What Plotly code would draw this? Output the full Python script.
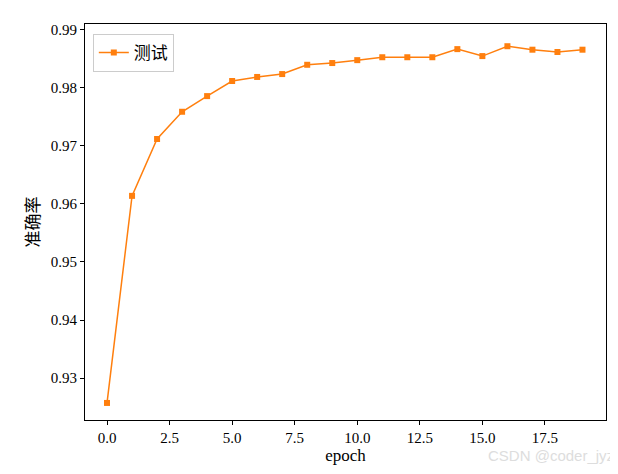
import plotly.graph_objects as go

# 每个 epoch 的测试准确率
epochs = list(range(20))
test_acc = [0.9257, 0.9614, 0.9712, 0.9759, 0.9786, 0.9812, 0.9819, 0.9824, 0.9840, 0.9843,
            0.9848, 0.9853, 0.9853, 0.9853, 0.9867, 0.9855, 0.9872, 0.9866, 0.9862, 0.9866]

fig = go.Figure()
fig.add_trace(go.Scatter(
    x=epochs, y=test_acc, mode='lines+markers', name='测试',
    line=dict(color='#ff7f0e', width=1.5),
    marker=dict(symbol='square', size=6, color='#ff7f0e'),
))

axis_style = dict(showgrid=False, zeroline=False, showline=True, mirror=True,
                  linecolor='black', linewidth=1, ticks='outside', ticklen=4,
                  tickcolor='black', tickfont=dict(size=15), automargin=False)

fig.update_xaxes(range=[-0.88, 19.94], tickvals=[0, 2.5, 5, 7.5, 10, 12.5, 15, 17.5],
                 ticktext=['0.0', '2.5', '5.0', '7.5', '10.0', '12.5', '15.0', '17.5'],
                 title=dict(text='epoch', font=dict(size=17), standoff=4), **axis_style)
fig.update_yaxes(range=[0.92276, 0.99103], tickvals=[0.93, 0.94, 0.95, 0.96, 0.97, 0.98, 0.99],
                 tickformat='.2f',
                 title=dict(text='准确率', font=dict(size=17), standoff=6), **axis_style)

fig.update_layout(
    width=618, height=474,
    margin=dict(l=77, r=20, t=16, b=62),
    plot_bgcolor='white', paper_bgcolor='white',
    font=dict(family='Liberation Serif, Noto Sans CJK SC', color='black'),
    showlegend=True,
    legend=dict(x=0.015, y=0.975, xanchor='left', yanchor='top',
                bordercolor='#cccccc', borderwidth=1, font=dict(size=17)),
)

# 水印
fig.add_annotation(text='CSDN @coder_jyz', xref='paper', yref='paper', x=1.02, y=-0.09,
                   xanchor='right', yanchor='middle', showarrow=False,
                   font=dict(family='Liberation Sans', size=15, color='#dddddd'))

fig.write_html("out.html")
